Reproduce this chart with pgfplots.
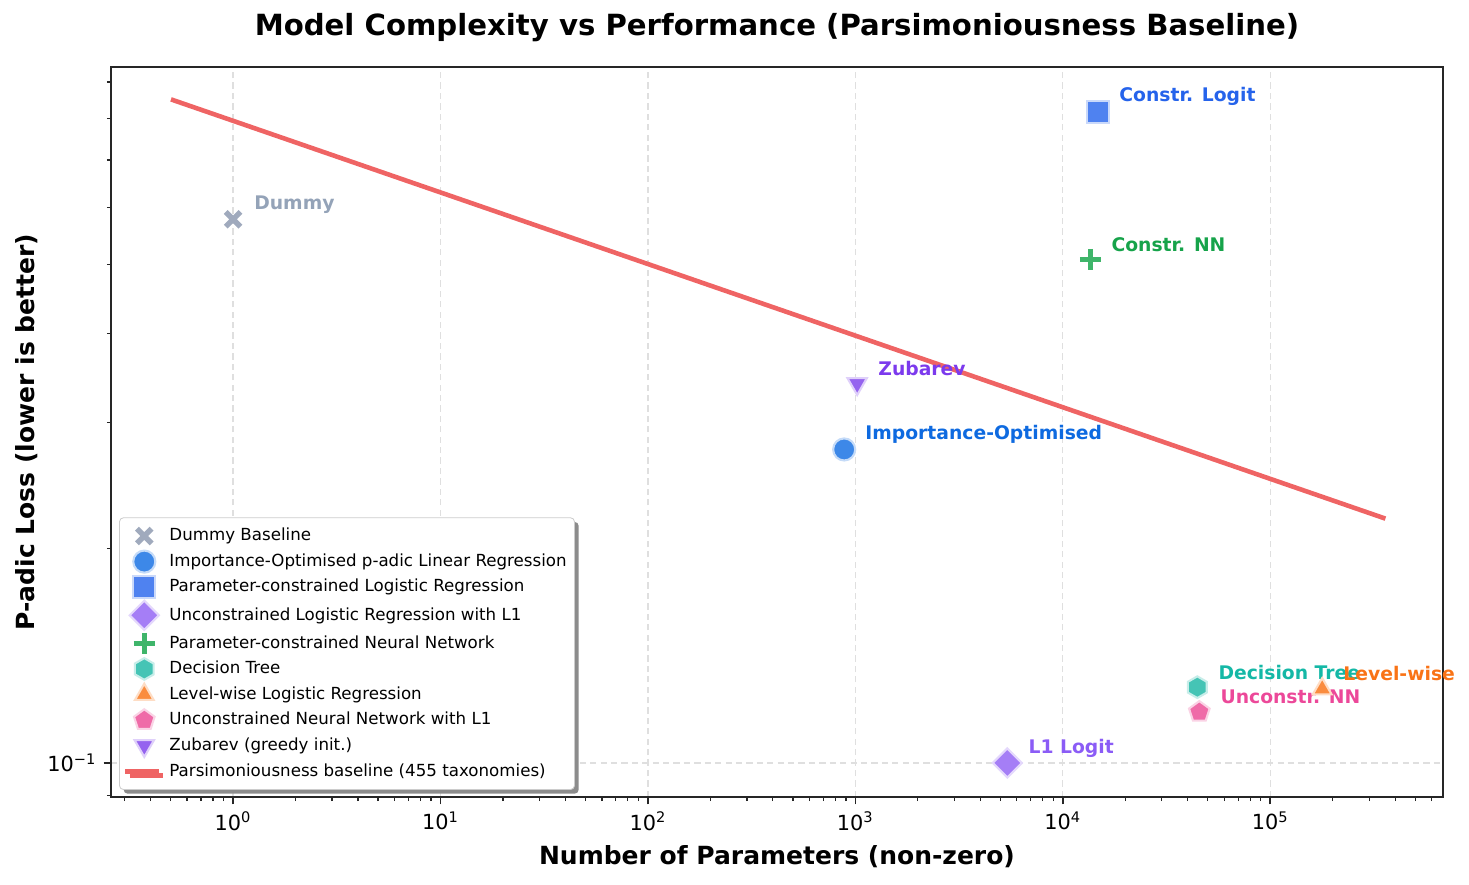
\documentclass[border=0pt]{standalone}
\usepackage{pgfplots}
\pgfplotsset{compat=1.18}
\usepackage{fontspec}
\setmainfont{DejaVu Sans}
\usetikzlibrary{shadows}

% marker fills
\definecolor{cDummy}{HTML}{A0AABD}
\definecolor{cImp}{HTML}{3D88E8}
\definecolor{cCL}{HTML}{4F82F0}
\definecolor{cLone}{HTML}{A57EF6}
\definecolor{cCNN}{HTML}{3FB56A}
\definecolor{cDT}{HTML}{45C4B5}
\definecolor{cLW}{HTML}{FA8C3F}
\definecolor{cUNN}{HTML}{EF6BA8}
\definecolor{cZub}{HTML}{9563EF}
\definecolor{cBase}{HTML}{EF6464}
% label colours
\definecolor{lDummy}{HTML}{94A3B8}
\definecolor{lImp}{HTML}{0E6AE0}
\definecolor{lCL}{HTML}{2563EB}
\definecolor{lLone}{HTML}{8B5CF6}
\definecolor{lCNN}{HTML}{16A34A}
\definecolor{lDT}{HTML}{14B8A6}
\definecolor{lLW}{HTML}{F97316}
\definecolor{lUNN}{HTML}{EC4899}
\definecolor{lZub}{HTML}{7C3AED}

\pgfdeclareplotmark{hexagon*}{%
  \pgfpathmoveto{\pgfpointpolar{90}{\pgfplotmarksize}}%
  \pgfpathlineto{\pgfpointpolar{150}{\pgfplotmarksize}}%
  \pgfpathlineto{\pgfpointpolar{210}{\pgfplotmarksize}}%
  \pgfpathlineto{\pgfpointpolar{270}{\pgfplotmarksize}}%
  \pgfpathlineto{\pgfpointpolar{330}{\pgfplotmarksize}}%
  \pgfpathlineto{\pgfpointpolar{30}{\pgfplotmarksize}}%
  \pgfpathclose
  \pgfusepathqfillstroke
}

\pgfplotsset{shortline legend/.style={legend image code/.code={%
  \draw[##1] (-0.5pt,0pt) -- (15.5pt,0pt);}}}

\tikzset{lbl/.style={anchor=west, inner sep=0pt, xshift=10pt, yshift=7.2pt,
  font=\bfseries\fontsize{9}{11}\selectfont}}

\begin{document}
\begin{tikzpicture}
\path[use as bounding box] (-53.3pt,-41.8pt) rectangle (651.9pt,382.6pt);
\begin{axis}[
  at={(0,0)}, anchor=south west,
  scale only axis, width=639.4pt, height=350.4pt,
  xmode=log, ymode=log,
  xmin=0.258, xmax=6.8e5, ymin=0.0896, ymax=0.9445,
  clip=false,
  axis line style={line width=1pt, black!85},
  tick pos=left, tick align=outside,
  major tick length=3.5pt, minor tick length=2pt,
  every tick/.style={black!85, line width=0.8pt},
  minor tick style={line width=0.6pt},
  xtick={1,10,100,1000,10000,100000},
  xticklabels={10\textsuperscript{0},10\textsuperscript{1},10\textsuperscript{2},10\textsuperscript{3},10\textsuperscript{4},10\textsuperscript{5}},
  minor xtick={0.3,0.4,0.5,0.6,0.7,0.8,0.9,2,3,4,5,6,7,8,9,20,30,40,50,60,70,80,90,200,300,400,500,600,700,800,900,2000,3000,4000,5000,6000,7000,8000,9000,20000,30000,40000,50000,60000,70000,80000,90000,200000,300000,400000,500000,600000},
  ytick={0.1},
  yticklabels={10\textsuperscript{−1}},
  minor ytick={0.09,0.2,0.3,0.4,0.5,0.6,0.7,0.8,0.9},
  ticklabel style={font=\fontsize{10}{12}\selectfont},
  grid=major,
  major grid style={gray!25, line width=0.6pt, dash pattern=on 3pt off 2pt},
  every axis title shift=0pt,
  title={Model Complexity vs Performance (Parsimoniousness Baseline)},
  title style={font=\bfseries\fontsize{14}{16}\selectfont, at={(axis description cs:0.5,1.0548)}, anchor=center},
  xlabel={Number of Parameters (non-zero)},
  xlabel style={font=\bfseries\fontsize{12}{14}\selectfont, at={(axis description cs:0.5,-0.0822)}, anchor=center},
  ylabel={P-adic Loss (lower is better)},
  ylabel style={font=\bfseries\fontsize{12}{14}\selectfont, at={(axis description cs:-0.063,0.5)}, anchor=center},
  legend style={at={(axis description cs:0.006,0.0096)}, anchor=south west,
    font=\fontsize{8}{9.6}\selectfont, draw=gray!40, fill=white,
    rounded corners=2pt, row sep=0.7pt, inner xsep=1.8pt, inner ysep=3pt,
    /tikz/every odd column/.append style={column sep=2pt},
    drop shadow={shadow xshift=2pt, shadow yshift=-2pt, fill=black!45, opacity=1}},
  legend cell align=left,
]
\addplot[only marks, mark=x, mark size=5pt, color=cDummy, line width=2.6pt]
  coordinates {(1,0.578)};
\addlegendentry{Dummy Baseline}
\addplot[only marks, mark=*, mark size=5.3pt, mark options={fill=cImp, draw=cImp!30, line width=1pt}]
  coordinates {(883,0.275)};
\addlegendentry{Importance-Optimised p-adic Linear Regression}
\addplot[only marks, mark=square*, mark size=5.3pt, mark options={fill=cCL, draw=cCL!30, line width=1pt}]
  coordinates {(14800,0.818)};
\addlegendentry{Parameter-constrained Logistic Regression}
\addplot[only marks, mark=diamond*, mark size=7pt, mark options={fill=cLone, draw=cLone!30, line width=1pt, xscale=1.333}]
  coordinates {(5400,0.1)};
\addlegendentry{Unconstrained Logistic Regression with L1}
\addplot[only marks, mark=+, mark size=5pt, color=cCNN, line width=2.6pt]
  coordinates {(13560,0.508)};
\addlegendentry{Parameter-constrained Neural Network}
\addplot[only marks, mark=hexagon*, mark size=5.2pt, mark options={fill=cDT, draw=cDT!30, line width=1pt}]
  coordinates {(44500,0.1277)};
\addlegendentry{Decision Tree}
\addplot[only marks, mark=triangle*, mark size=5.2pt, mark options={fill=cLW, draw=cLW!30, line width=1pt}]
  coordinates {(178000,0.127)};
\addlegendentry{Level-wise Logistic Regression}
\addplot[only marks, mark=pentagon*, mark size=5.2pt, mark options={fill=cUNN, draw=cUNN!30, line width=1pt}]
  coordinates {(45500,0.1179)};
\addlegendentry{Unconstrained Neural Network with L1}
\addplot[only marks, mark=triangle*, mark size=5.4pt, mark options={fill=cZub, draw=cZub!30, line width=1pt, rotate=180}]
  coordinates {(1020,0.340)};
\addlegendentry{Zubarev (greedy init.)}
\addplot[color=cBase, line width=2.2pt, shortline legend]
  coordinates {(0.502,0.851) (3.59e5,0.220)};
\addlegendentry{Parsimoniousness baseline (455 taxonomies)}

\node[lbl, text=lDummy] at (axis cs:1,0.578) {Dummy};
\node[lbl, text=lImp] at (axis cs:883,0.275) {Importance-Optimised};
\node[lbl, text=lCL] at (axis cs:14800,0.818) {Constr. Logit};
\node[lbl, text=lLone] at (axis cs:5400,0.1) {L1 Logit};
\node[lbl, text=lCNN] at (axis cs:13560,0.508) {Constr. NN};
\node[lbl, text=lDT] at (axis cs:44500,0.1277) {Decision Tree};
\node[lbl, text=lLW] at (axis cs:178000,0.127) {Level-wise};
\node[lbl, text=lUNN] at (axis cs:45500,0.1179) {Unconstr. NN};
\node[lbl, text=lZub] at (axis cs:1020,0.340) {Zubarev};
\end{axis}
\end{tikzpicture}
\end{document}
